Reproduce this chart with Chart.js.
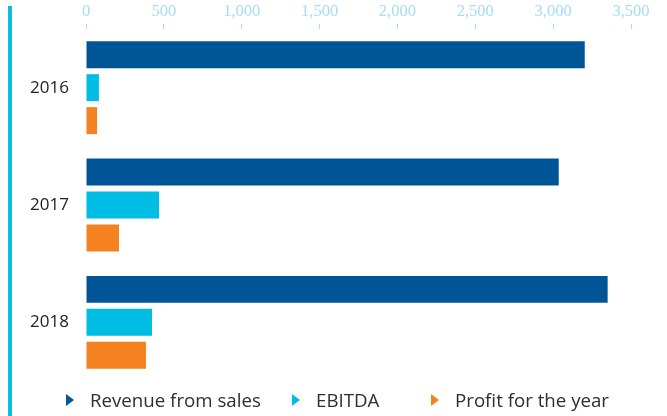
<!DOCTYPE html>
<html>
<head>
<meta charset="utf-8">
<script src="https://cdn.jsdelivr.net/npm/chart.js@4.4.1/dist/chart.umd.min.js"></script>
<style>
  html, body { margin: 0; padding: 0; background: #fff; }
  .wrap { position: relative; width: 667px; height: 416px; overflow: hidden; }
  .side-line { position: absolute; left: 8px; top: 6px; width: 4px; height: 410px; background: #0bbde0; }
  #chartEl { position: absolute; left: 0; top: 0; }
  .legend { position: absolute; left: 66px; top: 390px; display: flex; height: 20px;
    font-family: "Open Sans", sans-serif; font-size: 18.7px; color: #2e2e2e; }
  .legend .item { display: flex; align-items: center; line-height: 20px; white-space: nowrap; }
  .legend .item:nth-child(1) { width: 226px; }
  .legend .item:nth-child(2) { width: 139px; }
  .legend .mark { width: 0; height: 0; border-top: 6.5px solid transparent; border-bottom: 6.5px solid transparent;
    border-left: 8px solid; margin-right: 16px; }
</style>
</head>
<body>
<div class="wrap">
  <div class="side-line"></div>
  <canvas id="chartEl" width="667" height="416"></canvas>
  <div class="legend" id="legendEl"></div>
</div>
<script>
const years = ['2016', '2017', '2018']
const seriesNames = ['Revenue from sales', 'EBITDA', 'Profit for the year']
const seriesColors = ['#005596', '#00bde3', '#f58220']
const revenue = [3203, 3036, 3350]
const ebitda = [83, 469, 424]
const profit = [71, 212, 385]
const xTicks = [0, 500, 1000, 1500, 2000, 2500, 3000, 3500]

const tickBlue = '#a3dcf5'

const datasets = [revenue, ebitda, profit].map((values, i) => ({
  label: seriesNames[i],
  data: values,
  backgroundColor: seriesColors[i],
  borderWidth: 0,
  categoryPercentage: 0.843,
  barPercentage: 0.818,
}))

new Chart(document.querySelector('#chartEl'), {
  type: 'bar',
  data: { labels: years, datasets: datasets },
  options: {
    indexAxis: 'y',
    responsive: false,
    animation: false,
    layout: { padding: { left: 0, right: 36, top: 0, bottom: 35 } },
    plugins: { legend: { display: false }, tooltip: { enabled: false } },
    scales: {
      x: {
        position: 'top',
        min: xTicks[0],
        max: xTicks[xTicks.length - 1],
        afterBuildTicks: scale => { scale.ticks = xTicks.map(v => ({ value: v })) },
        afterFit: scale => { scale.height = 29 },
        border: { display: false },
        grid: { drawOnChartArea: false, drawTicks: true, tickLength: 5, tickColor: tickBlue, lineWidth: 1 },
        ticks: {
          padding: 2,
          color: tickBlue,
          font: { family: '"Liberation Serif", serif', size: 16.5 },
          callback: v => v.toLocaleString('en-US'),
        },
      },
      y: {
        afterFit: scale => { scale.width = 86 },
        border: { display: false },
        grid: { display: false, drawTicks: false },
        ticks: {
          padding: 17,
          color: '#222',
          font: { family: '"Open Sans", sans-serif', size: 17 },
        },
      },
    },
  },
})

/* Légende maison avec triangles */
document.querySelector('#legendEl').innerHTML = datasets.map(d =>
  `<div class="item"><span class="mark" style="border-left-color:${d.backgroundColor}"></span>${d.label}</div>`
).join('')
</script>
</body>
</html>
